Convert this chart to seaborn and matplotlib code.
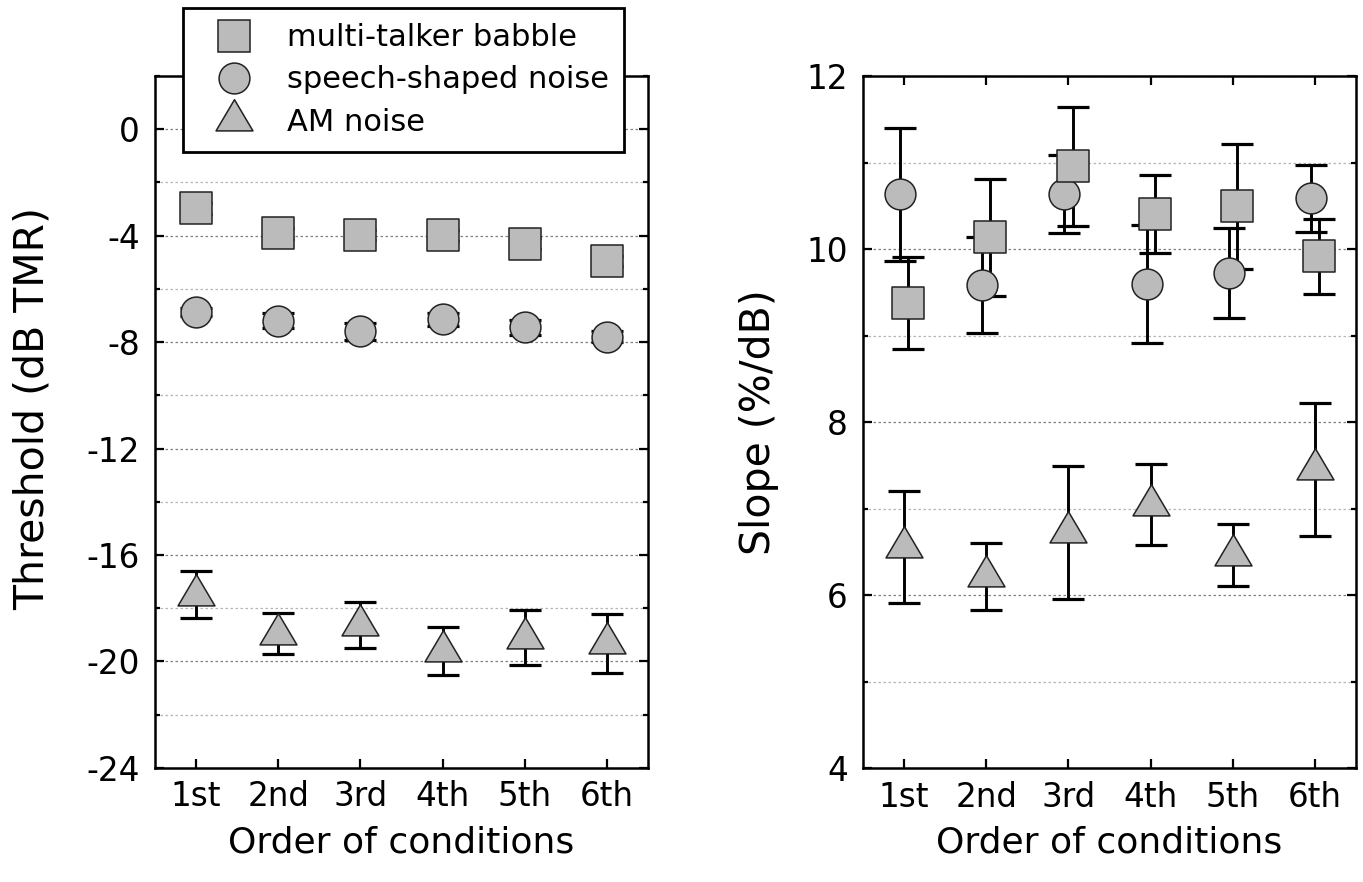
import matplotlib
matplotlib.use('Agg')
import matplotlib.pyplot as plt
import numpy as np
import seaborn as sns
from matplotlib.ticker import MultipleLocator
from matplotlib.markers import MarkerStyle
from matplotlib.path import Path
from matplotlib.lines import Line2D

sns.set_style('ticks')
plt.rcParams['font.family'] = ['DejaVu Sans']
plt.rcParams['axes.unicode_minus'] = False
plt.rcParams['text.color'] = 'black'
plt.rcParams['axes.labelcolor'] = 'black'

orders = ['1st', '2nd', '3rd', '4th', '5th', '6th']
conditions = ['multi-talker babble', 'speech-shaped noise', 'AM noise']

# threshold (dB TMR), left panel
thr_babble = [-2.97, -3.91, -3.97, -3.99, -4.30, -4.95]
thr_babble_err = [0.2, 0.2, 0.2, 0.2, 0.2, 0.2]
thr_ssn = [-6.87, -7.19, -7.59, -7.15, -7.44, -7.80]
thr_ssn_err = [0.15, 0.28, 0.32, 0.25, 0.28, 0.20]
thr_am = [-17.49, -18.95, -18.63, -19.59, -19.11, -19.32]
thr_am_err = [0.88, 0.76, 0.85, 0.90, 1.03, 1.10]

# slope (%/dB), right panel
slope_babble = [9.38, 10.14, 10.96, 10.41, 10.50, 9.92]
slope_babble_err = [0.53, 0.68, 0.69, 0.45, 0.72, 0.43]
slope_ssn = [10.64, 9.59, 10.64, 9.60, 9.73, 10.59]
slope_ssn_err = [0.77, 0.55, 0.45, 0.68, 0.52, 0.39]
slope_am = [6.56, 6.22, 6.73, 7.05, 6.47, 7.46]
slope_am_err = [0.65, 0.39, 0.77, 0.47, 0.36, 0.77]

# triangle with its centroid on the data point
tri = MarkerStyle(Path([(0, 1), (-0.886, -0.5), (0.886, -0.5), (0, 1)], closed=True))
markers = ['s', 'o', tri]
msizes = [22.6, 22.2, 30.0]
zorders = [5, 4, 4]
face = '#bbbbbb'
edge = '#222222'


def draw_panel(ax, series, shifts):
    x = np.arange(1, len(orders) + 1)
    for (name, y, err), m, ms, dx, z in zip(series, markers, msizes, shifts, zorders):
        ax.errorbar(x + dx, y, yerr=err, fmt='none', ecolor='black',
                    elinewidth=2.1, capsize=11.3, capthick=2.3, zorder=2)
        sns.scatterplot(x=x + dx, y=y, marker=m, s=ms ** 2, color=face,
                        edgecolor=edge, linewidth=1.1, ax=ax, zorder=z,
                        legend=False)
    ax.set_xlim(0.5, len(orders) + 0.5)
    ax.set_xticks(x)
    ax.set_xticklabels(orders)
    ax.set_axisbelow(True)
    ax.grid(which='major', axis='y', color='#808080', linestyle=(0, (2, 2)), linewidth=0.9)
    ax.grid(which='minor', axis='y', color='#b5b5b5', linestyle=(0, (2, 2)), linewidth=0.9)
    ax.tick_params(which='both', direction='in', top=True, right=True,
                   labelsize=23.5, colors='black', width=1.6)
    ax.tick_params(which='major', length=6.5)
    ax.tick_params(axis='y', which='major', pad=11)
    ax.tick_params(axis='x', which='major', pad=9)
    ax.tick_params(which='minor', length=3.6)
    ax.tick_params(axis='x', which='minor', bottom=False, top=False)
    for s in ax.spines.values():
        s.set_color('black')
        s.set_linewidth(1.8)
    ax.set_xlabel('Order of conditions', fontsize=26)
    ax.xaxis.set_label_coords(0.5, -0.083)


fig = plt.figure(figsize=(13.63, 8.82), dpi=100)
ax1 = fig.add_axes([0.1137, 0.1293, 0.3617, 0.7846])
ax2 = fig.add_axes([0.6332, 0.1287, 0.3617, 0.7846])

draw_panel(ax1, [(conditions[0], thr_babble, thr_babble_err),
                 (conditions[1], thr_ssn, thr_ssn_err),
                 (conditions[2], thr_am, thr_am_err)], [0, 0, 0])
ax1.set_ylim(-24, 2)
ax1.yaxis.set_major_locator(MultipleLocator(4))
ax1.yaxis.set_minor_locator(MultipleLocator(2))
ax1.set_ylabel('Threshold (dB TMR)', fontsize=29.5)
ax1.yaxis.set_label_coords(-0.207, 0.52)

draw_panel(ax2, [(conditions[0], slope_babble, slope_babble_err),
                 (conditions[1], slope_ssn, slope_ssn_err),
                 (conditions[2], slope_am, slope_am_err)], [0.05, -0.05, 0])
ax2.set_ylim(4, 12)
ax2.yaxis.set_major_locator(MultipleLocator(2))
ax2.yaxis.set_minor_locator(MultipleLocator(1))
ax2.set_ylabel('Slope (%/dB)', fontsize=29.5)
ax2.yaxis.set_label_coords(-0.17, 0.5)

handles = [Line2D([], [], linestyle='none', marker=m, markersize=ms,
                  markerfacecolor=face, markeredgecolor=edge, markeredgewidth=1.1)
           for m, ms in zip(markers, msizes)]
leg = fig.legend(handles, conditions, loc='upper left', bbox_to_anchor=(0.1343, 0.9909),
                 fontsize=22, frameon=True, fancybox=False, edgecolor='black',
                 framealpha=1, borderpad=0.5, labelspacing=0.43, handlelength=2.35,
                 handletextpad=0.55, borderaxespad=0)
leg.get_frame().set_linewidth(2)

fig.savefig('out.png', dpi=100, facecolor='white')
